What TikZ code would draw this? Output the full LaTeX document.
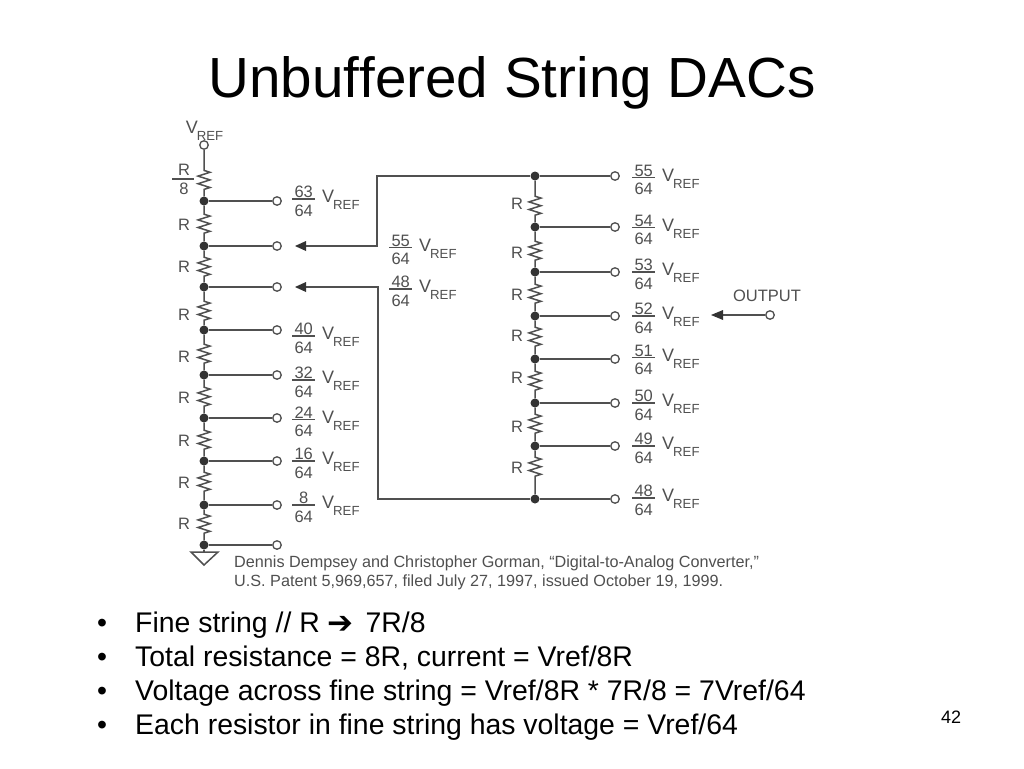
\documentclass[tikz,border=0pt]{standalone}
\usepackage{fontspec}
\setmainfont[Ligatures=NoCommon]{Liberation Sans}
\newfontfamily\symfont{DejaVu Sans}
\usetikzlibrary{decorations.pathmorphing,calc}
\definecolor{ink}{HTML}{505050}
\newcommand\fsz[1]{\fontsize{#1}{#1}\selectfont}
\newcommand\myfrac[2]{$\vcenter{\hbox to 23pt{\hss\fsz{16.5}#1\hss}\kern0.8pt\hrule height 1.3pt\kern5pt\hbox to 23pt{\hss\fsz{16.5}#2\hss}}$}
\newcommand\vrefl{\raisebox{1.5pt}{\fsz{18}V}\kern-1pt\raisebox{-6pt}{\fsz{13.2}REF}}
\tikzset{
 x=1pt,y=-1pt,
 wire/.style={draw=ink,line width=1.5pt},
 zz/.style 2 args={wire,decorate,decoration={zigzag,amplitude=6,segment length=7.6,pre length=#1,post length=#2}},
 dot/.style={circle,fill=black!80,inner sep=0pt,minimum size=9pt},
 open/.style={circle,draw=ink,fill=white,line width=1.3pt,inner sep=0pt,minimum size=8.5pt},
 lab/.style={text=ink,font=\fsz{16.5},inner sep=0pt},
 frl/.style={text=ink,inner sep=0pt,anchor=west},
 cite/.style={text=ink,font=\fsz{16.2},inner sep=0pt,anchor=base west},
 bul/.style={text=black,font=\fsz{28.4},inner sep=0pt,anchor=base west},
 tip/.style={fill=black!80,draw=none},
}
\begin{document}
\begin{tikzpicture}
\useasboundingbox (0,0) rectangle (1024,768);
\fill[white] (0,0) rectangle (1024,768);
\node[inner sep=0pt,anchor=base] (title) at (512,97) {\fsz{56.6}Unbuf\kern0pt fered String DACs};
% left string
\node[open] (top) at (204,145) {};
\node[frl,anchor=center] (vr) at (204.5,131) {\vrefl};
\foreach \n/\y in {a/201,b/246,c/287,d/330,e/375,f/418,g/461,h/505,i/545}{
 \node[dot] (L\n) at (204,\y) {};
 \node[open] (O\n) at (277,\y) {};
 \draw[wire] (L\n) -- (O\n);
}
\draw[zz={20.5}{4.5}] (top) -- (La);
\draw[zz={8.5}{5.5}] (La) -- (Lb);
\draw[zz={6.5}{3.5}] (Lb) -- (Lc);
\draw[zz={9.5}{2.5}] (Lc) -- (Ld);
\draw[zz={9.5}{4.5}] (Ld) -- (Le);
\draw[zz={7.5}{4.5}] (Le) -- (Lf);
\draw[zz={7.5}{4.5}] (Lf) -- (Lg);
\draw[zz={6.5}{6.5}] (Lg) -- (Lh);
\draw[zz={4.5}{4.5}] (Lh) -- (Li);
\draw[wire,fill=white] (191,552) -- (218,552) -- (204,565) -- cycle;
\coordinate (gnd) at (204,552);
\draw[wire] (Li) -- (gnd);
% R labels left
\node[lab] (r8n) at (184,170) {R};
\node[lab] (r8d) at (184,189) {8};
\coordinate (r8a) at (172,179); \coordinate (r8b) at (194,179);
\draw[wire] (r8a) -- (r8b);
\foreach \n/\y in {1/225,2/267,3/315,4/357,5/398,6/441,7/483,8/524}{
 \node[lab] (RL\n) at (184,\y) {R};
}
% left fractions
\foreach \n/\y/\t in {a/198/63,b/335/40,c/379/32,d/419/24,e/460/16,f/504/8}{
 \node[frl] (FL\n) at (292,\y+3) {\myfrac{\t}{64}\kern7pt\vrefl};
}
% middle
\node[frl] (M1) at (389,250) {\myfrac{55}{64}\kern7pt\vrefl};
\node[frl] (M2) at (389,291) {\myfrac{48}{64}\kern7pt\vrefl};
% right string
\foreach \n/\y in {a/176,b/227,c/272,d/316,e/359,f/403,g/446,h/499}{
 \node[dot] (R\n) at (535,\y) {};
 \node[open] (Q\n) at (615,\y) {};
 \draw[wire] (R\n) -- (Q\n);
}
\draw[zz={15.5}{4.5}] (Ra) -- (Rb);
\draw[zz={9.5}{4.5}] (Rb) -- (Rc);
\draw[zz={7.5}{5.5}] (Rc) -- (Rd);
\draw[zz={6.5}{5.5}] (Rd) -- (Re);
\draw[zz={7.5}{5.5}] (Re) -- (Rf);
\draw[zz={6.5}{5.5}] (Rf) -- (Rg);
\draw[zz={6.5}{15.5}] (Rg) -- (Rh);
\foreach \n/\y in {1/204,2/253,3/295,4/336,5/378,6/427,7/468}{
 \node[lab] (RR\n) at (517,\y) {R};
}
\foreach \n/\y/\t in {a/177/55,b/227/54,c/271/53,d/315/52,e/357/51,f/402/50,g/445/49,h/497/48}{
 \node[frl] (FR\n) at (632,\y+3) {\myfrac{\t}{64}\kern7pt\vrefl};
}
% connection lines
\coordinate (t1) at (305,246); \coordinate (k1) at (377,246); \coordinate (k1b) at (377,176);
\coordinate (t2) at (305,287); \coordinate (k2) at (378,287); \coordinate (k2b) at (378,499);
\draw[wire] (t1) -- (k1) -- (k1b) -- (Ra);
\draw[wire] (t2) -- (k2) -- (k2b) -- (Rh);
\fill[tip] (295,246) -- (306,241) -- (306,251) -- cycle;
\fill[tip] (295,287) -- (306,282) -- (306,292) -- cycle;
% output
\node[open] (out) at (770,315) {};
\coordinate (t3) at (722,315);
\draw[wire] (out) -- (t3);
\fill[tip] (711,315) -- (723,310) -- (723,320) -- cycle;
\node[lab] (outl) at (767,296) {OUTPUT};
% citation
\node[cite] (c1) at (234,567) {Dennis Dempsey and Christopher Gorman, “Digital-to-Analog Converter,”};
\node[cite] (c2) at (234,586) {U.S. Patent 5,969,657, filed July 27, 1997, issued October 19, 1999.};
% bullets
\foreach \n/\y/\t in {1/632/{Fine string // R {\symfont\fsz{31}\raisebox{-1.5pt}{➔}}\kern4pt{} 7R/8},2/666/{Total resistance = 8R, current = Vref/8R},3/700/{Voltage across fine string = Vref/8R * 7R/8 = 7Vref/64},4/734/{Each resistor in fine string has voltage = Vref/64}}{
 \node[bul] (bd\n) at (97,\y) {•};
 \node[bul] (bt\n) at (135,\y) {\t};
}
\node[inner sep=0pt,anchor=base] (pg) at (951,723) {\fsz{18}42};
\end{tikzpicture}
\end{document}
